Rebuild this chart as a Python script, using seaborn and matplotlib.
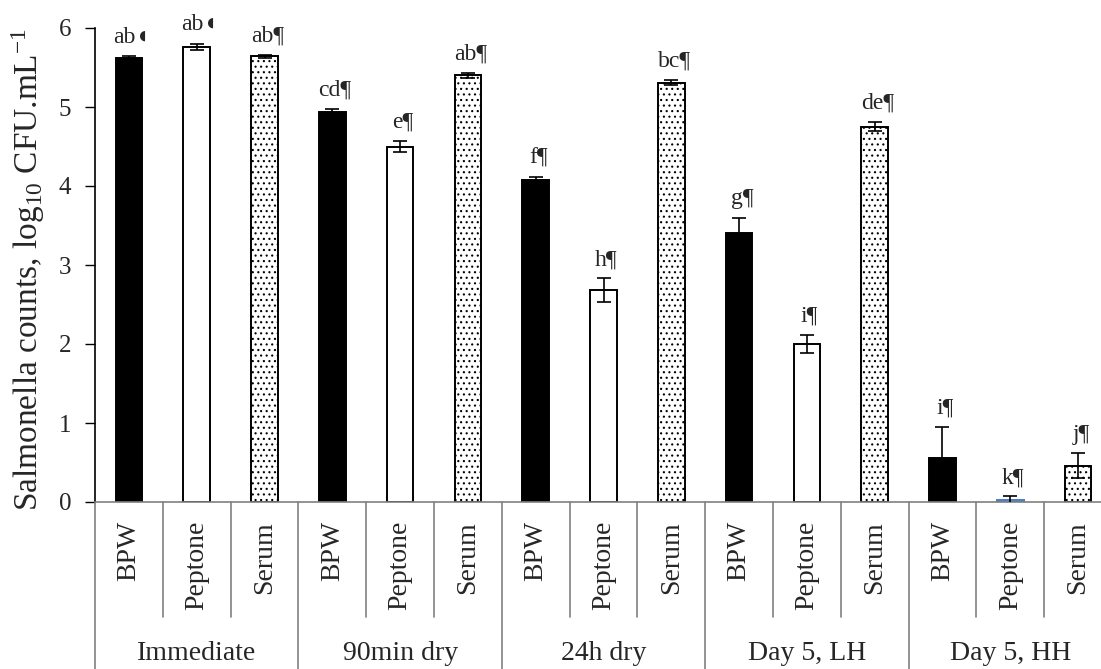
import numpy as np
import pandas as pd
import matplotlib
matplotlib.use("Agg")
import matplotlib.pyplot as plt
import matplotlib.transforms as mtrans
import seaborn as sns

groups = ["Immediate", "90min dry", "24h dry", "Day 5, LH", "Day 5, HH"]
media = ["BPW", "Peptone", "Serum"]
values = [5.62, 5.76, 5.64,
          4.94, 4.50, 5.40,
          4.08, 2.68, 5.31,
          3.40, 2.00, 4.75,
          0.56, 0.02, 0.46]
errors = [0.02, 0.04, 0.02,
          0.04, 0.07, 0.03,
          0.04, 0.15, 0.03,
          0.20, 0.12, 0.06,
          0.39, 0.05, 0.16]
letters = ["ab\u25d6", "ab\u25d6", "ab\u00b6",
           "cd\u00b6", "e\u00b6", "ab\u00b6",
           "f\u00b6", "h\u00b6", "bc\u00b6",
           "g\u00b6", "i\u00b6", "de\u00b6",
           "i\u00b6", "k\u00b6", "j\u00b6"]
yticks = [0, 1, 2, 3, 4, 5, 6]

sns.set_theme(style="white")
plt.rcParams["font.family"] = ["Liberation Serif", "DejaVu Sans"]
plt.rcParams["mathtext.fontset"] = "custom"
plt.rcParams["mathtext.rm"] = "Liberation Serif"
plt.rcParams["mathtext.it"] = "Liberation Serif:italic"
plt.rcParams["hatch.linewidth"] = 0.8

slots = [f"{g}|{m}" for g in groups for m in media]
df = pd.DataFrame({"slot": slots,
                   "medium": [m for g in groups for m in media],
                   "value": values, "err": errors})

W, H = 1101, 669
fig = plt.figure(figsize=(W / 100, H / 100), dpi=100)
ax_left, ax_right = 95, 95 + 15 * 67.8
ax_top, ax_bot = 28, 502
ax = fig.add_axes([ax_left / W, 1 - ax_bot / H, (ax_right - ax_left) / W, (ax_bot - ax_top) / H])

sns.barplot(data=df, x="slot", y="value", order=slots, color="black",
            width=0.39, edgecolor="black", linewidth=1.4, ax=ax, errorbar=None)

face = {"BPW": "black", "Peptone": "white", "Serum": "white"}
for patch, med in zip(ax.patches, df["medium"]):
    patch.set_facecolor(face[med])
    patch.set_edgecolor("black")
    if med == "Serum":
        patch.set_hatch("...")
ax.patches[13].set_edgecolor("#4a7bc4")

xs = np.arange(len(slots))
ax.errorbar(xs, df["value"], yerr=df["err"], fmt="none", ecolor="black",
            elinewidth=1.2, capsize=5, capthick=1.2, zorder=5)

for x, v, e, t in zip(xs, df["value"], df["err"], letters):
    ax.annotate(t, (x, v + e), xytext=(2, 6), textcoords="offset points",
                ha="center", va="bottom", fontsize=17)

ax.set_ylim(0, 6)
ax.set_xlim(-0.5, len(slots) - 0.5)
ax.set_yticks(yticks)
ax.set_yticklabels([str(t) for t in yticks], fontsize=18)
ax.tick_params(axis="y", direction="out", length=7, width=1, color="black", left=True, pad=10)
ax.set_xticks([])
ax.set_xlabel("")
ax.set_ylabel(r"Salmonella counts, log$_{\mathregular{10}}$ CFU.mL$^{\mathregular{-1}}$",
              fontsize=24)
ax.yaxis.set_label_coords((47 - ax_left) / (ax_right - ax_left), 0.49)
for s in ["top", "right"]:
    ax.spines[s].set_visible(False)
ax.spines["left"].set_color("black")
ax.spines["bottom"].set_color("#808080")
ax.spines["left"].set_linewidth(1.2)
ax.spines["bottom"].set_linewidth(1.2)

tr = mtrans.blended_transform_factory(ax.transData, ax.transAxes)
def fy(py):
    return (ax_bot - py) / (ax_bot - ax_top)

for i in range(len(slots) + 1):
    x = i - 0.5
    bottom = H if i % 3 == 0 else 617
    ax.plot([x, x], [fy(ax_bot), fy(bottom)], color="#808080", lw=1.2,
            transform=tr, clip_on=False)

for x, m in zip(xs, df["medium"]):
    ax.text(x, fy(521), m, rotation=90, ha="center", va="top",
            fontsize=20, transform=tr)
for gi, g in enumerate(groups):
    ax.text(gi * 3 + 1, fy(660), g, ha="center", va="baseline",
            fontsize=20, transform=tr)

fig.savefig("out.png", dpi=100)
